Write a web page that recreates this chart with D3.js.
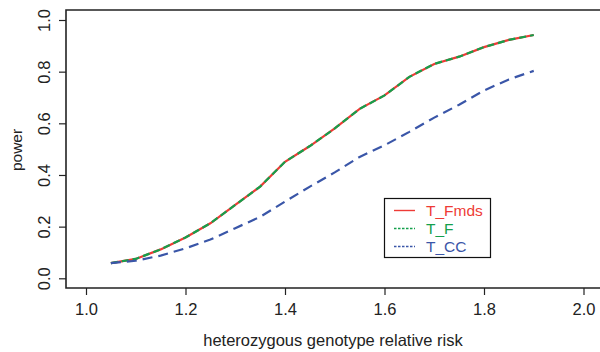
<!DOCTYPE html>
<html>
<head>
<meta charset="utf-8">
<script src="https://cdn.jsdelivr.net/npm/d3@7"></script>
<style>
  html, body { margin: 0; padding: 0; background: #fff; }
  svg { display: block; font-family: "Liberation Sans", Arial, Helvetica, sans-serif; }
</style>
</head>
<body>
<svg id="chart" width="600" height="352"></svg>
<script>
// heterozygous genotype relative risk
const riskValues = [1.05, 1.10, 1.15, 1.20, 1.25, 1.30, 1.35, 1.40, 1.45, 1.50,
                    1.55, 1.60, 1.65, 1.70, 1.75, 1.80, 1.85, 1.90];
// power per test
const powerFmds = [0.059, 0.075, 0.112, 0.158, 0.213, 0.284, 0.355, 0.451, 0.512, 0.580,
                   0.656, 0.708, 0.780, 0.830, 0.858, 0.895, 0.923, 0.942];
const powerF    = [0.059, 0.075, 0.112, 0.158, 0.213, 0.284, 0.355, 0.451, 0.512, 0.580,
                   0.656, 0.708, 0.780, 0.830, 0.858, 0.895, 0.923, 0.942];
const powerCC   = [0.059, 0.068, 0.088, 0.116, 0.150, 0.194, 0.238, 0.297, 0.355, 0.410,
                   0.470, 0.515, 0.567, 0.622, 0.672, 0.727, 0.770, 0.803];
const xTicks = [1.0, 1.2, 1.4, 1.6, 1.8, 2.0];
const yTicks = [0.0, 0.2, 0.4, 0.6, 0.8, 1.0];
const seriesNames = ['T_Fmds', 'T_F', 'T_CC'];

const svg = d3.select('#chart');
const plot = { left: 66, top: 10, bottom: 288 };

const x = d3.scaleLinear().domain([1.0, 2.0]).range([86, 583.5]);
const y = d3.scaleLinear().domain([0, 1]).range([278.3, 20]);

// box (right side runs off the picture)
svg.append('path')
  .attr('d', `M610,${plot.top}H${plot.left}V${plot.bottom}H610`)
  .attr('fill', 'none')
  .attr('stroke', '#222')
  .attr('stroke-width', 1.6);

// x axis
const gx = svg.append('g')
  .attr('transform', `translate(0,${plot.bottom})`)
  .call(d3.axisBottom(x).tickValues(xTicks).tickFormat(d3.format('.1f')).tickSize(7).tickSizeOuter(0));
gx.select('.domain').remove();
gx.selectAll('line').attr('stroke', '#222').attr('stroke-width', 1.2);
gx.selectAll('text')
  .attr('y', 27).attr('dy', 0)
  .attr('fill', '#222')
  .attr('font-size', '16.5px')
  .attr('font-family', '"Liberation Sans", Arial, sans-serif');

// y axis
const gy = svg.append('g')
  .attr('transform', `translate(${plot.left},0)`)
  .call(d3.axisLeft(y).tickValues(yTicks).tickFormat(d3.format('.1f')).tickSize(7).tickSizeOuter(0));
gy.select('.domain').remove();
gy.selectAll('line').attr('stroke', '#222').attr('stroke-width', 1.2);
gy.selectAll('text')
  .attr('x', null).attr('dy', 0)
  .attr('transform', 'translate(-16,0) rotate(-90)')
  .attr('text-anchor', 'middle')
  .attr('fill', '#222')
  .attr('font-size', '16.5px')
  .attr('font-family', '"Liberation Sans", Arial, sans-serif');

// axis titles
svg.append('text')
  .attr('x', 333).attr('y', 346)
  .attr('text-anchor', 'middle')
  .attr('font-size', '16.5px')
  .attr('fill', '#222')
  .text('heterozygous genotype relative risk');

svg.append('text')
  .attr('transform', 'translate(22,150) rotate(-90)')
  .attr('text-anchor', 'middle')
  .attr('font-size', '15.5px')
  .attr('fill', '#222')
  .text('power');

// lines
const line = d3.line()
  .x((d, i) => x(riskValues[i]))
  .y(d => y(d));

const series = [
  { name: seriesNames[0], values: powerFmds, color: '#ee3b36', dash: null, legendDash: null },
  { name: seriesNames[1], values: powerF,    color: '#14a04c', dash: '7,4', legendDash: '2.5,1.5' },
  { name: seriesNames[2], values: powerCC,   color: '#3a56a8', dash: '10,6', legendDash: '2.5,1.5' }
];

svg.append('g').selectAll('path')
  .data(series)
  .join('path')
  .attr('d', d => line(d.values))
  .attr('fill', 'none')
  .attr('stroke', d => d.color)
  .attr('stroke-width', 2.2)
  .attr('stroke-dasharray', d => d.dash);

// legend
const legend = svg.append('g');
legend.append('rect')
  .attr('x', 384.5).attr('y', 198.5)
  .attr('width', 106).attr('height', 59)
  .attr('fill', '#fff')
  .attr('stroke', '#111')
  .attr('stroke-width', 1.2);

const rows = legend.selectAll('g.row')
  .data(series)
  .join('g')
  .attr('class', 'row')
  .attr('transform', (d, i) => `translate(0,${210.5 + i * 18})`);

rows.append('line')
  .attr('x1', 394).attr('x2', 415)
  .attr('stroke', d => d.color)
  .attr('stroke-width', 1.4)
  .attr('stroke-dasharray', d => d.legendDash);

rows.append('text')
  .attr('x', 426).attr('dy', '0.36em')
  .attr('font-size', '15.5px')
  .attr('fill', d => d.color)
  .text(d => d.name);
</script>
</body>
</html>
